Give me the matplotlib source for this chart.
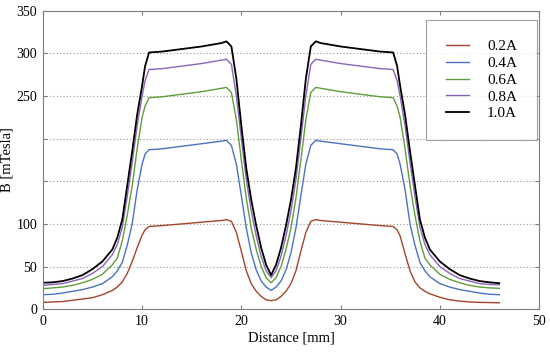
import matplotlib
matplotlib.use("Agg")
import matplotlib.pyplot as plt

plt.rcParams['font.family'] = ['Liberation Serif', 'DejaVu Serif']

# distance along the sample [mm]
distance = [0, 1, 2, 3, 4, 5, 6, 7, 7.5, 8, 8.5, 9, 9.5, 10, 10.3, 10.7,
            12, 14, 16, 18, 18.5, 19, 19.5, 20, 20.5, 21, 21.5, 22, 22.5, 23,
            23.5, 24, 24.5, 25, 25.5, 26, 26.5, 27, 27.5, 28, 30, 32, 34,
            35.3, 35.7, 36, 36.5, 37, 37.5, 38, 38.5, 39, 40, 41, 42, 43, 44, 45, 46]

# measured field [mTesla] for each coil current
b_02 = [8, 8.5, 9, 10.5, 12, 13.5, 17, 22, 26, 32, 42, 56, 72, 87, 93, 97,
        98, 100, 102, 104, 105, 103, 90, 68, 45, 30, 21, 15, 11, 10,
        11, 15, 21, 30, 45, 68, 90, 103, 105, 104, 102, 100, 98,
        97, 93, 86, 65, 45, 32, 25, 21, 18, 14, 11, 9.5, 8.5, 8, 7.8, 7.5]
b_04 = [17, 17.5, 19, 21, 23, 26, 30, 38, 45, 55, 75, 100, 140, 170, 182, 187,
        188, 191, 194, 197, 198, 192, 170, 133, 95, 66, 46, 33, 26, 22,
        26, 33, 46, 66, 95, 133, 170, 192, 198, 197, 194, 191, 188,
        187, 182, 170, 140, 100, 75, 55, 45, 38, 30, 26, 23, 21, 19, 17.5, 17]
b_06 = [24, 25, 26, 28, 31, 35, 41, 52, 60, 80, 110, 145, 188, 225, 238, 248,
        249, 252, 255, 259, 260, 254, 222, 175, 130, 95, 70, 50, 37, 31,
        37, 50, 70, 95, 130, 175, 222, 254, 260, 259, 255, 252, 249,
        248, 238, 225, 188, 145, 110, 80, 60, 52, 41, 35, 31, 28, 26, 25, 24.5]
b_08 = [28, 29, 30, 33, 36, 42, 50, 64, 76, 96, 132, 172, 215, 250, 268, 281,
        282, 285, 288, 292, 293, 287, 250, 200, 152, 115, 86, 62, 45, 37,
        45, 62, 86, 115, 152, 200, 250, 287, 293, 292, 288, 285, 282,
        281, 268, 250, 215, 172, 132, 96, 76, 64, 50, 42, 36, 33, 30, 29, 28.5]
b_10 = [31, 31.5, 33, 36, 40, 47, 56, 70, 84, 105, 145, 185, 228, 262, 285, 301,
        302, 305, 308, 312, 314, 308, 270, 215, 165, 128, 98, 72, 52, 40,
        52, 72, 98, 128, 165, 215, 270, 308, 314, 312, 308, 305, 302,
        301, 285, 262, 228, 185, 145, 105, 84, 70, 56, 47, 40, 36, 33, 31.5, 30.5]

labels = ['0.2A', '0.4A', '0.6A', '0.8A', '1.0A']
colors = ['#a5442a', '#4a72c2', '#5e9e3a', '#8a64b8', '#000000']

fig = plt.figure(figsize=(5.5, 3.55), dpi=100)
ax = fig.add_axes([0.078, 0.129, 0.902, 0.841])

for series, lab, col in zip([b_02, b_04, b_06, b_08, b_10], labels, colors):
    lw = 1.3 if col == '#000000' else 1.0
    ax.plot(distance, series, color=col, lw=lw, label=lab)

ax.set_xlim(0, 50)
ax.set_ylim(0, 350)
ax.set_xticks([0, 10, 20, 30, 40, 50])
ax.set_yticks([0, 50, 100, 150, 200, 250, 300, 350])
ax.set_yticklabels(['0', '50', '100', '', '', '250', '300', '350'])
ax.yaxis.grid(True, linestyle=(0, (1, 2)), color='#999999', lw=0.8)

for s in ax.spines.values():
    s.set_color('#7f7f7f')
ax.tick_params(direction='in', top=True, right=True, length=3, color='#7f7f7f',
               labelsize=10, pad=4)

ax.set_xlabel('Distance [mm]', fontsize=10.5, labelpad=3)
ax.set_ylabel('B [mTesla]', fontsize=10.5)
ax.yaxis.set_label_coords(-0.06, 0.5)

leg = ax.legend(loc='upper right', fontsize=11, frameon=True, fancybox=False,
                edgecolor='#888888', handlelength=1.5, handletextpad=1.2,
                labelspacing=0.2, borderpad=1.3, borderaxespad=0,
                bbox_to_anchor=(0.996, 0.969))
leg.get_frame().set_linewidth(0.8)

fig.savefig('out.png', dpi=100)
